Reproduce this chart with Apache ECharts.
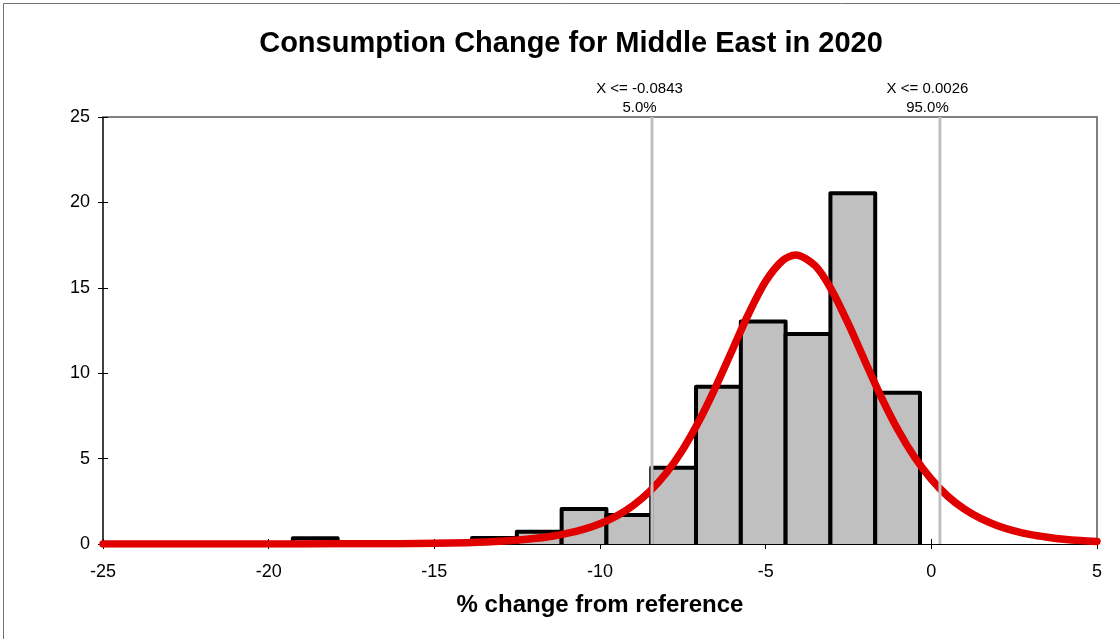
<!DOCTYPE html>
<html>
<head>
<meta charset="utf-8">
<title>Consumption Change for Middle East in 2020</title>
<script src="https://cdn.jsdelivr.net/npm/echarts@6/dist/echarts.min.js"></script>
<style>
  html, body { margin: 0; padding: 0; background: #ffffff; }
  #chart { width: 1120px; height: 639px; }
</style>
</head>
<body>
<div id="chart"></div>
<script>
// Histogram bins (edges in % change) and their density heights
const binEdges = [-19.270, -17.918, -16.566, -15.214, -13.862, -12.510, -11.158, -9.806,
                  -8.454, -7.102, -5.750, -4.398, -3.046, -1.694, -0.342];
const binHeights = [0.33, 0, 0, 0, 0.35, 0.72, 2.05, 1.70, 4.47, 9.21, 13.02, 12.30, 20.53, 8.86];

// Fitted density curve
const fitX = [-25, -22, -20, -18, -16, -15, -14, -13, -12, -11.5, -11, -10.5, -10, -9.5, -9,
              -8.5, -8, -7.5, -7, -6.5, -6, -5.5, -5, -4.5, -4.1, -3.5, -3, -2.5, -2, -1.5,
              -1, -0.5, 0, 0.5, 1, 1.5, 2, 2.5, 3, 3.5, 4, 4.5, 5];
const fitY = [0.00, 0.00, 0.00, 0.01, 0.02, 0.04, 0.08, 0.16, 0.32, 0.44, 0.62, 0.86, 1.19, 1.64, 2.26,
              3.08, 4.16, 5.54, 7.24, 9.23, 11.39, 13.54, 15.38, 16.58, 16.92, 16.28, 14.84, 12.87, 10.69, 8.56,
              6.66, 5.07, 3.79, 2.79, 2.04, 1.48, 1.07, 0.77, 0.55, 0.40, 0.28, 0.20, 0.15];

// 5% / 95% cutoff markers
const cutoffX = [-8.43, 0.26];
const cutoffText = ['X <= -0.0843', 'X <= 0.0026'];
const cutoffPct = ['5.0%', '95.0%'];

// Axis ranges
const xRange = [-25, 5];
const yRange = [0, 25];

const FONT = '"Liberation Sans", Arial, Helvetica, sans-serif';

const histData = [];
for (let i = 0; i < binHeights.length; i++) {
  histData.push([binEdges[i], binEdges[i + 1], binHeights[i]]);
}
const fitData = fitX.map((x, i) => [x, fitY[i]]);
const cutoffData = cutoffX.map((x, i) => [x, i]);

const chart = echarts.init(document.getElementById('chart'), null, { renderer: 'canvas' });

const baseX = {
  type: 'value', min: xRange[0], max: xRange[1], interval: 5,
  splitLine: { show: false }
};
const baseY = {
  type: 'value', min: yRange[0], max: yRange[1], interval: 5,
  splitLine: { show: false }
};

chart.setOption({
  animation: false,
  backgroundColor: '#ffffff',
  grid: { left: 103, right: 23, top: 117, bottom: 95, containLabel: false },
  graphic: [
    {
      type: 'rect', silent: true, z: -10,
      shape: { x: 3.5, y: 3.5, width: 1300, height: 800 },
      style: { fill: null, stroke: '#707070', lineWidth: 1 }
    },
    {
      type: 'text', x: 571, y: 44, silent: true,
      style: {
        text: 'Consumption Change for Middle East in 2020',
        font: 'bold 29px ' + FONT, fill: '#000',
        textAlign: 'center', textVerticalAlign: 'middle',
        align: 'center', verticalAlign: 'middle'
      }
    }
  ],
  xAxis: [
    Object.assign({}, baseX, {
      position: 'bottom',
      axisLine: { onZero: false, lineStyle: { color: '#000', width: 1 } },
      axisTick: { show: true, inside: false, length: 5, lineStyle: { color: '#000' } },
      axisLabel: { fontSize: 18, fontFamily: FONT, color: '#000', margin: 19 },
      name: '% change from reference',
      nameLocation: 'middle', nameGap: 49,
      nameTextStyle: { fontSize: 24, fontWeight: 'bold', fontFamily: FONT, color: '#000' }
    }),
    Object.assign({}, baseX, {
      position: 'bottom',
      axisLine: { show: false, onZero: false },
      axisTick: { show: true, inside: true, length: 5, lineStyle: { color: '#000' } },
      axisLabel: { show: false }
    }),
    Object.assign({}, baseX, {
      position: 'top',
      axisLine: { show: true, onZero: false, lineStyle: { color: '#808080', width: 2 } },
      axisTick: { show: false },
      axisLabel: { show: false }
    })
  ],
  yAxis: [
    Object.assign({}, baseY, {
      position: 'left',
      axisLine: { show: true, onZero: false, lineStyle: { color: '#000', width: 1.5 } },
      axisTick: { show: true, inside: false, length: 5, lineStyle: { color: '#000' } },
      axisLabel: { fontSize: 18, fontFamily: FONT, color: '#000', margin: 13 }
    }),
    Object.assign({}, baseY, {
      position: 'left',
      axisLine: { show: false, onZero: false },
      axisTick: { show: true, inside: true, length: 5, lineStyle: { color: '#000' } },
      axisLabel: { show: false }
    }),
    Object.assign({}, baseY, {
      position: 'right',
      axisLine: { show: true, onZero: false, lineStyle: { color: '#808080', width: 2 } },
      axisTick: { show: false },
      axisLabel: { show: false }
    })
  ],
  series: [
    {
      // histogram bars: grey fill with a heavy black outline (no bottom edge)
      type: 'custom',
      name: 'Histogram',
      xAxisIndex: 0, yAxisIndex: 0,
      z: 2,
      encode: { x: [0, 1], y: 2 },
      data: histData,
      renderItem: function (params, api) {
        const h = api.value(2);
        if (!h) return null;
        const p0 = api.coord([api.value(0), 0]);
        const p1 = api.coord([api.value(1), h]);
        return {
          type: 'group',
          children: [
            {
              type: 'rect',
              shape: { x: p0[0], y: p1[1], width: p1[0] - p0[0], height: p0[1] - p1[1] },
              style: { fill: '#c0c0c0' }
            },
            {
              type: 'polyline',
              shape: { points: [[p0[0], p0[1]], [p0[0], p1[1]], [p1[0], p1[1]], [p1[0], p0[1]]] },
              style: { fill: null, stroke: '#000', lineWidth: 4, lineJoin: 'round', lineCap: 'butt' }
            }
          ]
        };
      }
    },
    {
      type: 'line',
      name: 'Fit',
      xAxisIndex: 0, yAxisIndex: 0,
      z: 3,
      data: fitData,
      smooth: 0.3,
      showSymbol: false,
      symbol: 'none',
      lineStyle: { color: '#e00000', width: 7.5, cap: 'round', join: 'round' }
    },
    {
      // percentile cutoff lines with their labels
      type: 'custom',
      name: 'Cutoffs',
      xAxisIndex: 0, yAxisIndex: 0,
      z: 4,
      clip: false,
      encode: { x: 0 },
      data: cutoffData,
      renderItem: function (params, api) {
        const i = api.value(1);
        const bottom = api.coord([api.value(0), yRange[0]]);
        const top = api.coord([api.value(0), yRange[1]]);
        const tx = top[0] - 12.5;
        return {
          type: 'group',
          children: [
            {
              type: 'line',
              shape: { x1: bottom[0], y1: bottom[1], x2: top[0], y2: top[1] },
              style: { stroke: '#c0c0c0', lineWidth: 3 }
            },
            {
              type: 'text', x: tx, y: top[1] - 28,
              style: {
                text: cutoffText[i], fill: '#000', font: '15px ' + FONT,
                align: 'center', verticalAlign: 'middle',
                textAlign: 'center', textVerticalAlign: 'middle'
              }
            },
            {
              type: 'text', x: tx, y: top[1] - 9,
              style: {
                text: cutoffPct[i], fill: '#000', font: '15px ' + FONT,
                align: 'center', verticalAlign: 'middle',
                textAlign: 'center', textVerticalAlign: 'middle'
              }
            }
          ]
        };
      }
    }
  ]
});
</script>
</body>
</html>
